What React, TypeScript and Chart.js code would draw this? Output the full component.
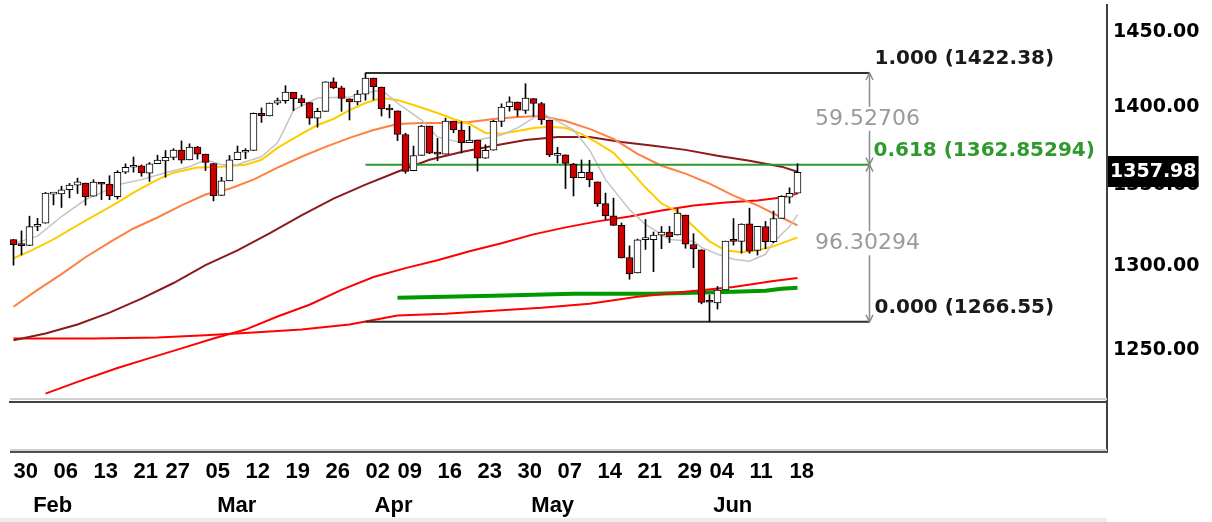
import React, { useEffect, useRef } from "react";
import { Chart, registerables } from "chart.js";
Chart.register(...registerables);

// ---- trading days (2012, MM-DD) ----
const dates = [
  "01-30","01-31","02-01","02-02","02-03",
  "02-06","02-07","02-08","02-09","02-10",
  "02-13","02-14","02-15","02-16","02-17",
  "02-21","02-22","02-23","02-24",
  "02-27","02-28","02-29","03-01","03-02",
  "03-05","03-06","03-07","03-08","03-09",
  "03-12","03-13","03-14","03-15","03-16",
  "03-19","03-20","03-21","03-22","03-23",
  "03-26","03-27","03-28","03-29","03-30",
  "04-02","04-03","04-04","04-05",
  "04-09","04-10","04-11","04-12","04-13",
  "04-16","04-17","04-18","04-19","04-20",
  "04-23","04-24","04-25","04-26","04-27",
  "04-30","05-01","05-02","05-03","05-04",
  "05-07","05-08","05-09","05-10","05-11",
  "05-14","05-15","05-16","05-17","05-18",
  "05-21","05-22","05-23","05-24","05-25",
  "05-29","05-30","05-31","06-01",
  "06-04","06-05","06-06","06-07","06-08",
  "06-11","06-12","06-13","06-14","06-15",
  "06-18","06-19",
];

const opens = [
  1316.16,1313.53,1312.45,1324.24,1326.21,
  1344.32,1344.33,1347.04,1349.97,1351.21,
  1343.06,1351.30,1350.52,1342.61,1358.06,
  1361.22,1362.11,1357.53,1363.46,
  1365.20,1367.56,1372.20,1365.90,1374.09,
  1369.59,1363.63,1343.39,1352.65,1365.97,
  1370.78,1371.92,1395.95,1394.17,1402.55,
  1404.17,1409.59,1405.52,1402.89,1392.78,
  1397.11,1416.55,1412.52,1405.39,1403.31,
  1408.47,1418.98,1413.09,1398.79,
  1397.45,1382.18,1358.98,1368.77,1387.61,
  1370.27,1369.57,1390.78,1385.08,1376.96,
  1378.53,1366.97,1372.11,1390.64,1400.19,
  1403.26,1397.86,1405.50,1402.32,1391.51,
  1368.79,1369.16,1363.20,1354.58,1358.11,
  1351.93,1338.36,1330.78,1324.82,1305.05,
  1295.73,1316.09,1316.02,1318.72,1320.64,
  1318.90,1331.25,1313.09,1309.87,
  1278.29,1277.82,1285.61,1316.15,1314.99,
  1325.72,1309.40,1324.02,1314.88,1329.19,
  1342.42,1344.83,
];

const highs = [
  1316.16,1321.41,1330.52,1329.19,1345.34,
  1344.36,1349.24,1351.00,1354.32,1351.21,
  1353.35,1351.30,1355.87,1359.02,1363.40,
  1367.76,1362.70,1364.24,1368.92,
  1371.94,1373.09,1378.04,1376.17,1374.53,
  1369.59,1363.63,1354.85,1368.72,1374.76,
  1373.04,1396.13,1399.42,1402.63,1405.88,
  1414.00,1409.59,1407.75,1402.89,1399.18,
  1416.58,1419.15,1413.65,1405.39,1410.89,
  1422.38,1419.00,1413.09,1401.60,
  1397.45,1383.01,1374.71,1388.13,1387.61,
  1379.66,1392.76,1390.78,1390.46,1387.40,
  1378.53,1375.57,1391.37,1402.09,1406.64,
  1403.26,1415.32,1405.50,1403.07,1391.51,
  1373.91,1369.16,1363.73,1365.88,1365.66,
  1351.93,1344.94,1341.78,1326.36,1312.24,
  1316.39,1328.49,1320.71,1324.14,1324.20,
  1334.93,1331.25,1319.74,1309.87,
  1282.55,1287.62,1315.13,1329.05,1325.81,
  1335.52,1324.31,1327.28,1333.68,1343.32,
  1348.22,1363.46,
];

const lows = [
  1300.49,1306.69,1312.45,1321.57,1326.21,
  1337.52,1335.92,1341.95,1344.63,1337.35,
  1343.06,1340.83,1340.80,1341.22,1357.24,
  1358.11,1355.53,1352.28,1363.46,
  1354.92,1365.97,1363.81,1365.90,1366.42,
  1359.13,1340.03,1343.39,1352.65,1365.97,
  1366.69,1371.92,1389.97,1394.17,1401.47,
  1402.43,1397.68,1400.64,1388.73,1386.87,
  1397.11,1411.95,1397.20,1391.56,1401.42,
  1404.46,1404.62,1394.09,1392.92,
  1378.24,1357.38,1358.98,1368.77,1369.85,
  1365.38,1369.57,1383.29,1370.30,1376.96,
  1358.79,1366.82,1372.11,1387.28,1397.31,
  1394.00,1395.73,1393.92,1388.71,1367.96,
  1363.94,1347.75,1343.13,1354.58,1348.89,
  1336.61,1328.41,1324.79,1304.86,1291.98,
  1295.73,1310.04,1296.53,1310.50,1314.23,
  1318.90,1310.76,1298.90,1277.25,
  1266.55,1274.16,1285.61,1312.68,1307.77,
  1307.73,1306.62,1310.51,1314.14,1329.19,
  1338.63,1344.83,
];

const closes = [
  1313.01,1312.41,1324.09,1325.54,1344.90,
  1344.33,1347.05,1349.96,1351.95,1342.64,
  1351.77,1350.50,1343.23,1358.04,1361.23,
  1362.21,1357.66,1363.46,1365.74,
  1367.59,1372.18,1365.68,1374.09,1369.63,
  1364.33,1343.36,1352.63,1365.91,1370.87,
  1371.09,1395.95,1394.28,1402.60,1404.17,
  1409.75,1405.52,1402.89,1392.78,1397.11,
  1416.51,1412.52,1405.54,1403.28,1408.47,
  1419.04,1413.38,1398.96,1398.08,
  1382.20,1358.59,1368.71,1387.57,1370.26,
  1369.57,1390.78,1385.14,1376.92,1378.53,
  1366.94,1371.97,1390.69,1399.98,1403.36,
  1397.91,1405.82,1402.31,1391.57,1369.10,
  1369.58,1363.72,1354.58,1357.99,1353.39,
  1338.35,1330.66,1324.80,1304.86,1295.22,
  1315.99,1316.63,1318.86,1320.68,1317.82,
  1332.42,1313.32,1310.33,1278.04,
  1278.18,1285.50,1315.13,1314.99,1325.66,
  1308.93,1324.18,1314.88,1329.10,1342.84,
  1344.78,1357.98,
];

// first trading day of each week (index into dates) -> bottom tick labels
const weekStartIdx = [0, 5, 10, 15, 19, 24, 29, 34, 39, 44, 48, 53, 58, 63, 68, 73, 78, 83, 87, 92, 97];
const monthNames = ["Feb", "Mar", "Apr", "May", "Jun"];
const monthLabelPos = [4.9, 27.9, 47.5, 67.4, 89.9];
const priceTicks = [1250, 1300, 1350, 1400, 1450];

// moving-average style overlays: [dayIndex, value]
const maGray: [number, number][] = [
  [0,1313.6],[3,1318.2],[6,1330.3],[9,1340.9],[11,1345.2],[13,1350.2],[16,1353.4],[19,1357.8],
  [22,1361.6],[24,1366.0],[26,1362.8],[28,1362.8],[29,1364.7],[31,1367.9],[33,1376.8],[34,1387.1],
  [35,1398.0],[38,1405.9],[42,1406.6],[44,1409.2],[46,1411.2],[48,1402.6],[51,1391.5],[53,1380.6],
  [56,1376.8],[58,1378.7],[61,1381.9],[63,1386.4],[66,1396.1],[67,1393.5],[70,1385.1],[72,1372.3],
  [74,1353.4],[77,1334.6],[79,1325.4],[82,1316.2],[85,1315.0],[86,1311.3],[88,1307.1],[90,1304.1],
  [92,1302.9],[94,1307.1],[95,1314.4],[97,1324.1],[98,1331.5],
];
const maYellow: [number, number][] = [
  [0,1304.7],[2,1308.9],[5,1316.2],[9,1327.8],[11,1333.4],[13,1339.0],[15,1345.2],[18,1353.4],
  [20,1357.8],[23,1361.0],[26,1361.6],[29,1362.8],[31,1366.0],[33,1373.6],[36,1382.6],[38,1388.3],
  [40,1392.2],[42,1398.0],[44,1402.6],[46,1405.9],[48,1404.6],[50,1401.3],[53,1396.1],[55,1392.2],
  [57,1389.0],[59,1383.2],[61,1382.6],[63,1384.5],[65,1386.4],[67,1387.1],[69,1386.4],[71,1382.6],
  [73,1376.8],[75,1370.4],[77,1359.7],[79,1348.4],[81,1338.4],[83,1333.4],[85,1324.1],[87,1315.0],
  [89,1309.5],[91,1308.3],[93,1309.5],[95,1311.9],[97,1315.6],[98,1317.4],
];
const maOrange: [number, number][] = [
  [0,1275.5],[3,1285.6],[6,1295.1],[9,1305.3],[12,1314.4],[15,1322.9],[18,1329.7],[21,1337.2],
  [24,1344.0],[27,1347.7],[30,1353.4],[33,1361.0],[36,1367.9],[39,1374.2],[42,1380.0],[45,1385.1],
  [48,1389.0],[51,1389.6],[54,1389.6],[57,1390.3],[60,1392.2],[63,1393.5],[66,1394.1],[69,1390.9],
  [72,1385.8],[75,1379.4],[78,1369.8],[81,1362.2],[84,1357.2],[87,1350.9],[90,1343.3],[93,1337.2],
  [96,1329.7],[98,1324.8],
];
const maMaroon: [number, number][] = [
  [0,1255.7],[4,1259.7],[8,1265.0],[12,1272.0],[16,1280.3],[20,1289.7],[24,1300.5],[28,1309.5],
  [32,1319.9],[36,1331.0],[40,1341.5],[44,1350.2],[48,1358.4],[52,1366.0],[56,1371.0],[60,1374.9],
  [64,1378.7],[68,1380.6],[72,1380.6],[76,1377.4],[80,1374.9],[84,1372.3],[88,1368.5],[92,1365.4],
  [96,1361.6],[98,1358.4],
];
const maRedFast: [number, number][] = [
  [4,1224.9],[8,1231.6],[13,1239.6],[17,1245.3],[21,1251.0],[25,1256.8],[29,1262.0],[33,1269.7],
  [37,1276.7],[41,1285.6],[45,1293.3],[49,1298.7],[53,1303.5],[57,1308.9],[61,1313.8],[65,1319.3],
  [69,1323.6],[73,1327.3],[77,1330.3],[81,1334.0],[85,1337.2],[89,1339.0],[93,1340.3],[96,1342.1],
  [98,1344.6],
];
const maRedSlow: [number, number][] = [
  [0,1256.8],[10,1256.8],[18,1257.4],[24,1258.6],[30,1260.3],[36,1262.0],[42,1265.0],[48,1270.3],
  [54,1271.4],[60,1273.2],[66,1274.9],[72,1277.3],[78,1281.4],[84,1284.4],[90,1287.3],[95,1290.9],
  [98,1292.7],
];
const greenBand: [number, number][] = [
  [48,1280.8],[60,1282.0],[70,1283.2],[80,1283.2],[90,1284.4],[94,1285.0],[96,1286.2],[98,1286.8],
];

// Fibonacci retracement
const fibHigh = 1422.38;
const fibMid = 1362.85294;
const fibLow = 1266.55;
const fibStartIdx = 44;
const fibEndIdx = 107;
const fibLevelLabels = ["1.000 (1422.38)", "0.618 (1362.85294)", "0.000 (1266.55)"];
const fibDiffLabels = ["59.52706", "96.30294"];

const X_MIN = -0.4375;
const X_MAX = 136.6875;
const Y_MIN = 1220.1;
const Y_MAX = 1468.2;

const AXIS_FONT = '"Liberation Sans", Arial, sans-serif';

export default function App() {
  const ref = useRef<HTMLCanvasElement | null>(null);

  useEffect(() => {
    const canvas = ref.current;
    if (!canvas) return;
    const idx = closes.map((_, i) => i);
    const up = idx.map((i) => closes[i] >= opens[i]);
    const bodyData = idx.map((i) => ({ x: i, y: [Math.min(opens[i], closes[i]), Math.max(opens[i], closes[i])] }));
    const wickData = idx.map((i) => ({ x: i, y: [lows[i], highs[i]] }));

    const line = (pts: [number, number][], color: string, width: number, order: number) => ({
      type: "line" as const,
      data: pts.map(([x, y]) => ({ x, y })),
      borderColor: color,
      backgroundColor: color,
      borderWidth: width,
      pointRadius: 0,
      tension: 0,
      fill: false,
      order,
    });
    const level = (v: number, color: string, width: number) => ({
      type: "line" as const,
      data: [{ x: fibStartIdx, y: v }, { x: fibEndIdx, y: v }],
      borderColor: color,
      borderWidth: width,
      pointRadius: 0,
      fill: false,
      order: 2,
    });

    const overlay = {
      id: "overlay",
      afterDatasetsDraw(chart: any) {
        const { ctx, scales } = chart;
        const x = scales.x;
        const y = scales.y;
        const xr = Math.round(x.getPixelForValue(fibEndIdx)) - 0.5;
        const yH = y.getPixelForValue(fibHigh);
        const yM = y.getPixelForValue(fibMid);
        const yL = y.getPixelForValue(fibLow);
        ctx.save();
        ctx.strokeStyle = "#8c8c8c";
        ctx.lineWidth = 1.5;
        ctx.beginPath();
        ctx.moveTo(xr, yH);
        ctx.lineTo(xr, yL);
        ctx.stroke();
        const head = (yy: number, dir: number) => {
          ctx.beginPath();
          ctx.moveTo(xr - 3.5, yy + dir * 7);
          ctx.lineTo(xr, yy);
          ctx.lineTo(xr + 3.5, yy + dir * 7);
          ctx.stroke();
        };
        head(yH, 1);
        head(yM, -1);
        head(yM, 1);
        head(yL, -1);
        ctx.font = '22px "DejaVu Sans"';
        ctx.textAlign = "center";
        ctx.textBaseline = "middle";
        const diffs: [string, number][] = [
          [fibDiffLabels[0], (yH + yM) / 2],
          [fibDiffLabels[1], (yM + yL) / 2],
        ];
        diffs.forEach(([t, yy]) => {
          const w = ctx.measureText(t).width;
          ctx.fillStyle = "#ffffff";
          ctx.fillRect(xr - 2 - w / 2 - 2, yy - 12, w + 4, 24);
          ctx.fillStyle = "#9a9a9a";
          ctx.fillText(t, xr - 2, yy);
        });
        ctx.font = 'bold 20px "DejaVu Sans"';
        ctx.textAlign = "left";
        ctx.fillStyle = "#1a1a1a";
        ctx.fillText(fibLevelLabels[0], xr + 5, yH - 14);
        ctx.fillStyle = "#2e9a2e";
        ctx.fillText(fibLevelLabels[1], xr + 4, yM - 14);
        ctx.fillStyle = "#1a1a1a";
        ctx.fillText(fibLevelLabels[2], xr + 5, yL - 14);
        ctx.restore();
      },
      afterDraw(chart: any) {
        const { ctx, chartArea, scales } = chart;
        const y = scales.y;
        const paneBottom = chartArea.bottom + 50;
        ctx.save();
        // pane separator highlight
        ctx.fillStyle = "#d0d0d0";
        ctx.fillRect(chartArea.left, chartArea.bottom - 4, chartArea.right - chartArea.left, 2);
        // lower (empty) pane: axis line continues, bottom border
        ctx.strokeStyle = "#404040";
        ctx.lineWidth = 2;
        ctx.beginPath();
        ctx.moveTo(chartArea.right, chartArea.bottom);
        ctx.lineTo(chartArea.right, paneBottom);
        ctx.stroke();
        ctx.fillStyle = "#d0d0d0";
        ctx.fillRect(chartArea.left, paneBottom - 3, chartArea.right - chartArea.left, 2);
        ctx.fillStyle = "#505050";
        ctx.fillRect(chartArea.left, paneBottom - 1, chartArea.right - chartArea.left + 1, 2);
        // bottom strip
        ctx.fillStyle = "#ececec";
        ctx.fillRect(0, 518, chartArea.right, 4);
        // last price marker
        const last = closes[closes.length - 1];
        const yc = Math.round(y.getPixelForValue(last));
        ctx.font = 'bold 19px "DejaVu Sans"';
        const txt = last.toFixed(2);
        const w = ctx.measureText(txt).width;
        ctx.fillStyle = "#000";
        ctx.fillRect(chartArea.right + 1, yc - 16, w + 4, 31);
        ctx.fillStyle = "#fff";
        ctx.textAlign = "left";
        ctx.textBaseline = "middle";
        ctx.fillText(txt, chartArea.right + 3, yc);
        ctx.restore();
      },
    };

    const chart = new Chart(canvas, {
      type: "bar",
      data: {
        datasets: [
          {
            type: "bar",
            data: bodyData as any,
            backgroundColor: up.map((u) => (u ? "#ffffff" : "#cc0000")),
            borderColor: "#000000",
            borderWidth: 1,
            borderSkipped: false,
            barThickness: 7,
            maxBarThickness: 7,
            minBarLength: 2,
            grouped: false,
            order: 0,
          } as any,
          {
            type: "bar",
            data: wickData as any,
            backgroundColor: "#000000",
            borderWidth: 0,
            barThickness: 1,
            maxBarThickness: 1,
            grouped: false,
            order: 1,
          } as any,
          level(fibHigh, "#303030", 2),
          level(fibMid, "#2e9a2e", 2),
          level(fibLow, "#303030", 2),
          line(maGray, "#c4c4c4", 1.5, 3),
          line(maYellow, "#ffcc00", 2, 4),
          line(maOrange, "#ff8040", 2, 5),
          line(maMaroon, "#8b1a1a", 2, 6),
          line(maRedFast, "#ff0000", 2, 7),
          line(maRedSlow, "#ff0000", 2, 8),
          line(greenBand, "#009900", 4, 9),
        ] as any,
      },
      options: {
        animation: false,
        responsive: false,
        devicePixelRatio: 1,
        events: [],
        layout: { padding: { top: 5, left: 10, right: 0, bottom: 0 } },
        plugins: { legend: { display: false }, tooltip: { enabled: false } },
        scales: {
          x: {
            type: "linear",
            position: "bottom",
            offset: false,
            min: X_MIN,
            max: X_MAX,
            weight: 0,
            grid: { display: false, drawTicks: false },
            border: { display: true, color: "#404040", width: 2 },
            afterBuildTicks: (s: any) => {
              s.ticks = weekStartIdx.map((v) => ({ value: v }));
            },
            afterFit: (s: any) => {
              s.height = 84;
              s.paddingLeft = 0;
              s.paddingRight = 0;
            },
            ticks: {
              autoSkip: false,
              maxRotation: 0,
              minRotation: 0,
              align: "start",
              padding: 57,
              color: "#000",
              font: { family: AXIS_FONT, size: 22, weight: "bold" },
              callback: (v: any) => dates[Number(v)].slice(3),
            },
          },
          xm: {
            type: "linear",
            position: "bottom",
            offset: false,
            min: X_MIN,
            max: X_MAX,
            weight: 1,
            grid: { display: false, drawTicks: false },
            border: { display: false },
            afterBuildTicks: (s: any) => {
              s.ticks = monthLabelPos.map((v) => ({ value: v }));
            },
            afterFit: (s: any) => {
              s.height = 36;
              s.paddingLeft = 0;
              s.paddingRight = 0;
            },
            ticks: {
              autoSkip: false,
              maxRotation: 0,
              minRotation: 0,
              padding: 7,
              color: "#000",
              font: { family: AXIS_FONT, size: 22, weight: "bold" },
              callback: (_v: any, i: number) => monthNames[i],
            },
          },
          y: {
            type: "logarithmic",
            position: "right",
            min: Y_MIN,
            max: Y_MAX,
            grid: { display: false, drawTicks: false },
            border: { display: true, color: "#404040", width: 2 },
            afterBuildTicks: (s: any) => {
              s.ticks = priceTicks.map((v) => ({ value: v }));
            },
            afterFit: (s: any) => {
              s.width = 105;
              s.paddingTop = 0;
              s.paddingBottom = 0;
            },
            ticks: {
              padding: 6,
              color: "#000",
              font: { family: '"DejaVu Sans"', size: 19, weight: "bold" },
              callback: (v: any) => Number(v).toFixed(2),
            },
          },
        } as any,
      },
      plugins: [overlay],
    });
    return () => chart.destroy();
  }, []);

  return (
    <div style={{ position: "absolute", left: 0, top: 0, width: 1212, height: 522, background: "#ffffff" }}>
      <canvas ref={ref} width={1212} height={522} style={{ display: "block", width: 1212, height: 522 }} />
    </div>
  );
}
